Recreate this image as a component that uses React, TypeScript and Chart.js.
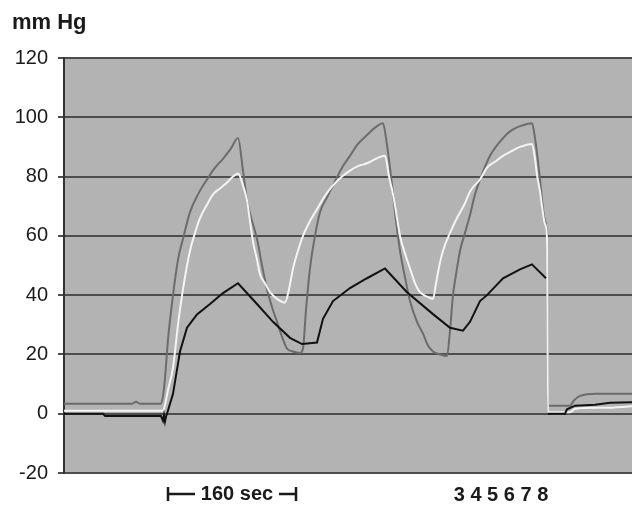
import React, { useEffect, useRef } from "react";
import { Chart, registerables } from "chart.js";
Chart.register(...registerables);

// time axis in sample units (0..568)
const yTicks = [-20, 0, 20, 40, 60, 80, 100, 120];

const grayT = [0, 40, 68, 72, 76, 97, 99, 101, 104, 109, 114, 119, 126, 134, 143, 151, 159, 167, 174, 179, 183, 188, 193, 198, 203, 208, 213, 218, 223, 229, 236, 239, 242, 246, 251, 256, 263, 269, 278, 286, 294, 303, 311, 319, 322, 326, 331, 336, 341, 346, 353, 359, 364, 369, 376, 383, 386, 389, 393, 396, 401, 406, 411, 416, 426, 439, 447, 456, 468, 471, 473, 476, 478, 481, 483, 484, 506, 510, 516, 533, 568];
const grayV = [3.4, 3.4, 3.4, 4, 3.4, 3.4, 6, 12, 25, 40, 52, 59, 68, 74, 79, 83, 86, 89.5, 93, 82, 72, 65, 59, 50, 42, 36, 31, 26, 22, 21, 20.5, 22, 35, 49, 60, 68, 73, 77, 83, 87, 91, 94, 96.5, 98, 93, 83, 68, 55, 46, 38, 31, 27, 23, 21, 20, 19.5, 28, 40, 49, 55, 61, 67, 74, 79, 87, 93, 95.5, 97, 98, 93, 88, 79, 72, 65, 59, 2.7, 2.7, 4.5, 6, 6.7, 6.7];

const whiteT = [0, 99, 101, 104, 109, 114, 119, 126, 131, 136, 143, 149, 156, 163, 169, 174, 179, 183, 186, 189, 193, 196, 201, 206, 214, 221, 225, 229, 234, 239, 246, 253, 261, 269, 278, 286, 294, 303, 312, 321, 325, 329, 333, 336, 341, 346, 351, 356, 363, 369, 372, 376, 379, 386, 393, 401, 406, 416, 423, 431, 439, 447, 456, 468, 471, 473, 476, 478, 481, 483, 484, 506, 511, 540, 568];
const whiteV = [1, 1, 3, 8, 15.5, 30, 42, 55, 61, 66, 70.5, 74, 76, 78, 80, 81, 77, 72, 65, 58, 52, 47, 44, 41, 38.5, 37.5, 42, 49, 55, 60, 65, 69, 73.5, 77, 80, 82, 83.5, 84.5, 86, 87, 80, 74, 66, 60, 54, 49, 44, 41, 39.5, 38.7, 44, 51, 55, 61, 66, 71, 75, 79, 83, 85, 87, 88.5, 90, 91, 86, 80.5, 75, 70, 64, 59, 0.5, 0.5, 1.7, 2, 2.5];

const blackT = [0, 39, 41, 97, 99, 100, 101, 102, 103, 109, 116, 123, 133, 146, 159, 174, 193, 209, 226, 238, 253, 259, 269, 286, 303, 321, 343, 369, 386, 399, 406, 416, 423, 439, 456, 468, 473, 482, 483, 484, 501, 503, 511, 531, 546, 568];
const blackV: (number | null)[] = [0, 0, -0.8, -0.8, -2.4, -0.5, -2.6, -1, 0, 6.7, 21, 29, 33.5, 37, 40.7, 44, 37, 31, 25.6, 23.5, 24, 32, 38, 42.4, 45.7, 49, 41, 33.6, 29, 28, 31, 38, 40, 45.7, 48.7, 50.4, 48.7, 45.7, null, 0, 0, 1.5, 2.7, 3, 3.7, 3.9];

const toPts = (t: number[], v: (number | null)[]) => t.map((x, i) => ({ x, y: v[i] }));

const overlay = {
  id: "overlay",
  beforeDraw(chart: any) {
    const { ctx, chartArea: a } = chart;
    ctx.save();
    ctx.fillStyle = "#b3b3b3";
    ctx.fillRect(a.left, a.top, a.right - a.left, a.bottom - a.top);
    ctx.restore();
  },
  afterDraw(chart: any) {
    const { ctx } = chart;
    ctx.save();
    ctx.fillStyle = "#1a1a1a";
    ctx.textBaseline = "middle";
    ctx.font = "bold 22px 'Liberation Sans', Arial, sans-serif";
    ctx.textAlign = "left";
    ctx.fillText("mm Hg", 12, 23);

    // 160 sec bracket
    ctx.strokeStyle = "#1a1a1a";
    ctx.lineWidth = 2.5;
    ctx.beginPath();
    ctx.moveTo(168, 487); ctx.lineTo(168, 501);
    ctx.moveTo(168, 494); ctx.lineTo(195, 494);
    ctx.moveTo(279, 494); ctx.lineTo(296, 494);
    ctx.moveTo(296, 487); ctx.lineTo(296, 501);
    ctx.stroke();
    ctx.font = "bold 20px 'Liberation Sans', Arial, sans-serif";
    ctx.textAlign = "center";
    ctx.fillText("160 sec", 237, 494);
    ctx.fillText("3 4 5 6 7 8", 501, 495);
    ctx.restore();
  },
};

export default function App() {
  const ref = useRef<HTMLCanvasElement>(null);
  useEffect(() => {
    const smooth = { borderWidth: 2, pointRadius: 0, cubicInterpolationMode: "monotone" as const, tension: 0.4 };
    const chart = new Chart(ref.current!, {
      type: "line",
      data: {
        datasets: [
          { label: "black", data: toPts(blackT, blackV), borderColor: "#111111", spanGaps: false, borderWidth: 2, pointRadius: 0, tension: 0 },
          { label: "white", data: toPts(whiteT, whiteV), borderColor: "#f4f4f4", ...smooth },
          { label: "gray", data: toPts(grayT, grayV), borderColor: "#6c6c6c", ...smooth },
        ],
      },
      options: {
        responsive: false,
        animation: false,
        events: [],
        layout: { padding: { top: 58, bottom: 33, left: 0, right: 0 } },
        plugins: { legend: { display: false }, tooltip: { enabled: false } },
        scales: {
          x: { type: "linear", min: 0, max: 568, display: false },
          y: {
            min: -20,
            max: 120,
            afterBuildTicks: (s: any) => { s.ticks = yTicks.map((v) => ({ value: v })); },
            afterFit: (s: any) => { s.width = 64; },
            grid: { color: "#4d4d4d", lineWidth: 2, tickLength: 6, drawTicks: true },
            border: { display: true, color: "#333333", width: 2 },
            ticks: { color: "#1a1a1a", padding: 10, font: { family: "'Liberation Sans', Arial, sans-serif", size: 20 } },
          },
        },
      },
      plugins: [overlay],
    });
    return () => chart.destroy();
  }, []);
  return (
    <div style={{ position: "fixed", left: 0, top: 0, width: 632, height: 506, background: "#fff" }}>
      <canvas ref={ref} width={632} height={506} />
    </div>
  );
}
